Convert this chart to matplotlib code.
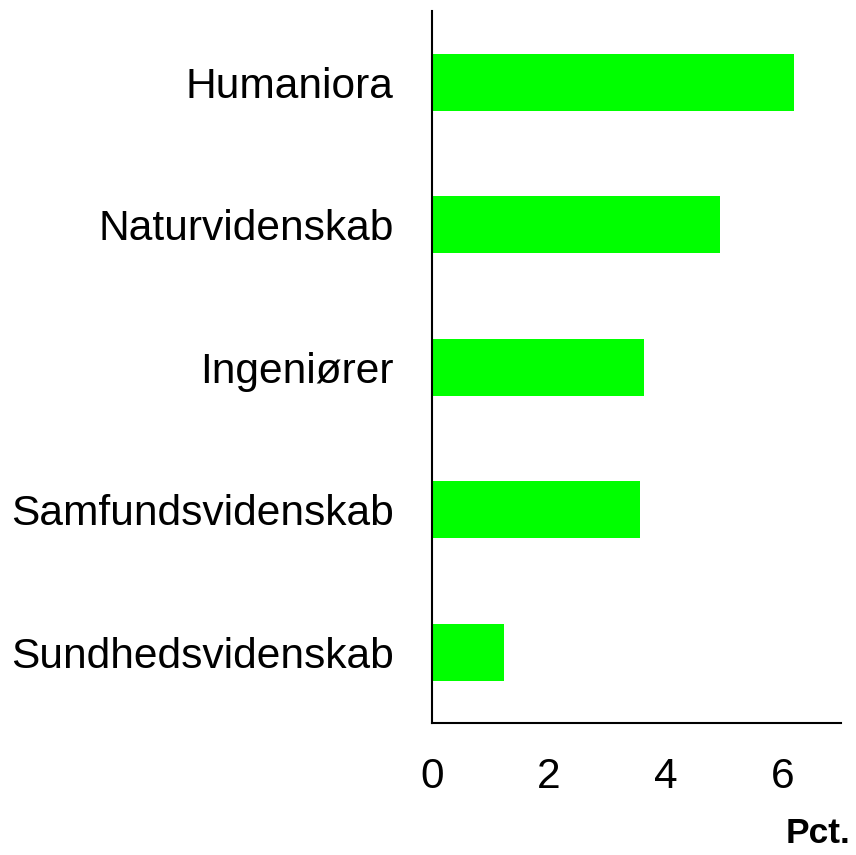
import matplotlib
matplotlib.use("Agg")
import matplotlib.pyplot as plt

categories = ["Humaniora", "Naturvidenskab", "Ingeniører", "Samfundsvidenskab", "Sundhedsvidenskab"]
values = [6.20, 4.93, 3.63, 3.56, 1.23]
xticks = [0, 2, 4, 6]

plt.rcParams['font.family'] = ['Liberation Sans', 'DejaVu Sans']

fig = plt.figure(figsize=(8.56, 8.55), dpi=100)
ax = fig.add_axes([0.505, 0.154, 0.477, 0.833])

ypos = list(range(len(categories)))
ax.barh(ypos, values, height=0.4, color="#00ff00")
ax.set_ylim(len(categories) - 0.5, -0.5)
ax.set_xlim(0, 7)
ax.set_yticks(ypos)
ax.set_yticklabels(categories, fontsize=30.6)
ax.set_xticks(xticks)
ax.set_xticklabels([str(t) for t in xticks], fontsize=30.6)
ax.tick_params(axis='both', length=0)
ax.tick_params(axis='y', pad=28)
ax.tick_params(axis='x', pad=24)
for s in ["top", "right"]:
    ax.spines[s].set_visible(False)
for s in ["left", "bottom"]:
    ax.spines[s].set_linewidth(1.5)
    ax.spines[s].set_color("black")

fig.text(0.993, 0.006, "Pct.", ha="right", va="bottom", fontsize=25.5, fontweight="bold")

fig.savefig("out.png", dpi=100)
